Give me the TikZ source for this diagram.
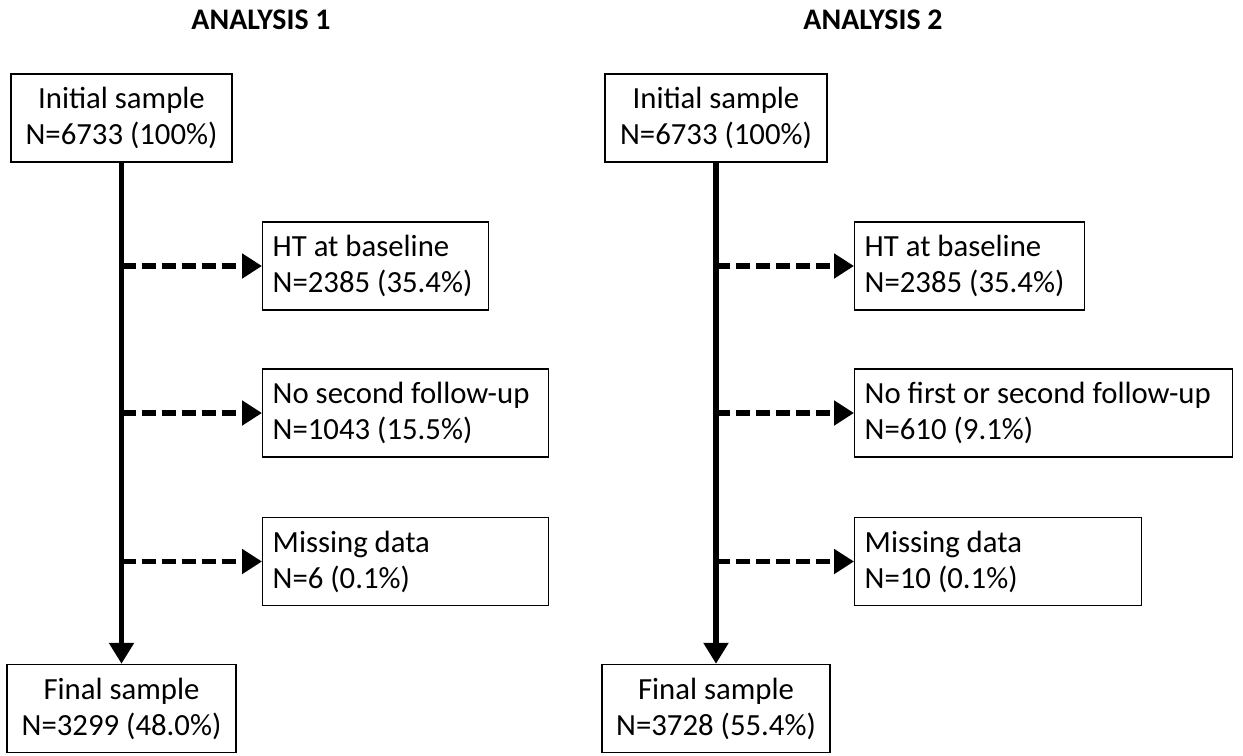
\documentclass[tikz,border=0pt]{standalone}
\usepackage{fontspec}
\setmainfont{Carlito}
\usetikzlibrary{arrows.meta}

\begin{document}
\begin{tikzpicture}[
  font=\fontsize{17.5}{20.5}\selectfont,
  box/.style={draw, line width=0.8pt, minimum height=1.76cm, inner sep=0.2cm},
  midbox/.style={box, align=center},
  sidebox/.style={box, anchor=west, align=flush left},
  mainline/.style={line width=3.1pt, -{Triangle[length=0.42cm,width=0.48cm]}},
  dropline/.style={line width=3.2pt, dash pattern=on 0.28cm off 0.12cm, -{Triangle[length=0.4cm,width=0.48cm]}}]
\useasboundingbox (0,0) rectangle (24.86,-15.1);

% analysis 1
\node[font=\fontsize{17}{20.5}\selectfont\bfseries] (title1) at (5.22,-0.4) {ANALYSIS 1};
\node[midbox, minimum width=4.42cm] (init1) at (2.43,-2.36) {Initial sample\\N=6733 (100\%)};
\node[sidebox, text width=4.12cm] (ht1) at (5.24,-5.32) {HT at baseline\\N=2385 (35.4\%)};
\node[sidebox, text width=5.32cm] (fu1) at (5.24,-8.26) {No second follow-up\\N=1043 (15.5\%)};
\node[sidebox, text width=5.32cm] (miss1) at (5.24,-11.23) {Missing data\\N=6 (0.1\%)};
\node[midbox, minimum width=4.58cm] (fin1) at (2.43,-14.17) {Final sample\\N=3299 (48.0\%)};

\draw[mainline] (init1.south) -- (fin1.north);
\draw[dropline] (init1.south |- ht1.west) -- (ht1.west);
\draw[dropline] (init1.south |- fu1.west) -- (fu1.west);
\draw[dropline] (init1.south |- miss1.west) -- (miss1.west);

% analysis 2
\node[font=\fontsize{17}{20.5}\selectfont\bfseries] (title2) at (17.46,-0.4) {ANALYSIS 2};
\node[midbox, minimum width=4.44cm] (init2) at (14.32,-2.36) {Initial sample\\N=6733 (100\%)};
\node[sidebox, text width=4.2cm] (ht2) at (17.08,-5.32) {HT at baseline\\N=2385 (35.4\%)};
\node[sidebox, text width=7.16cm] (fu2) at (17.08,-8.26) {No first or second follow-up\\N=610 (9.1\%)};
\node[sidebox, text width=5.34cm] (miss2) at (17.08,-11.23) {Missing data\\N=10 (0.1\%)};
\node[midbox, minimum width=4.56cm] (fin2) at (14.32,-14.17) {Final sample\\N=3728 (55.4\%)};

\draw[mainline] (init2.south) -- (fin2.north);
\draw[dropline] (init2.south |- ht2.west) -- (ht2.west);
\draw[dropline] (init2.south |- fu2.west) -- (fu2.west);
\draw[dropline] (init2.south |- miss2.west) -- (miss2.west);
\end{tikzpicture}
\end{document}
